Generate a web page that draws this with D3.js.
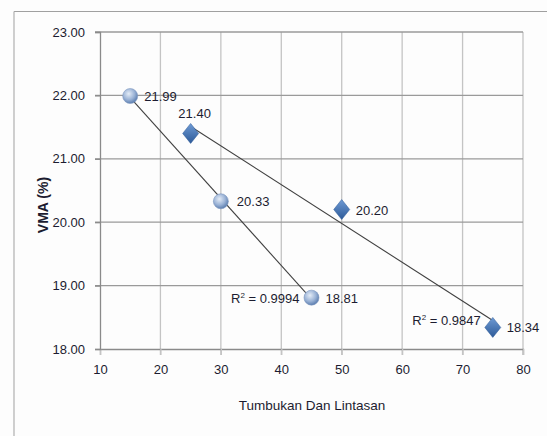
<!DOCTYPE html>
<html><head><meta charset="utf-8">
<script src="https://cdn.jsdelivr.net/npm/d3@7"></script>
<style>body{margin:0;background:#fff}svg{display:block}</style>
</head><body>
<svg id="c" width="547" height="436"></svg>
<script>
const xTicks = [10,20,30,40,50,60,70,80];
const yTicks = [18,19,20,21,22,23];
const circleX = [15,30,45];
const circleY = [21.99,20.33,18.81];
const circleR2 = "0.9994";
const diamondX = [25,50,75];
const diamondY = [21.40,20.20,18.34];
const diamondR2 = "0.9847";
const xTitle = "Tumbukan Dan Lintasan";
const yTitle = "VMA (%)";

const svg = d3.select("#c");
const font = "'Liberation Sans', Arial, sans-serif";
const txt = "#1c1c30";
const x = d3.scaleLinear().domain([10,80]).range([100,523]);
const y = d3.scaleLinear().domain([18,23]).range([349,32]);

// outer frame
svg.append("rect").attr("width",547).attr("height",436).attr("fill","#fdfdfd");
svg.append("line").attr("x1",14).attr("x2",547).attr("y1",11.5).attr("y2",11.5).attr("stroke","#a0a0a0").attr("stroke-width",1.2);
svg.append("line").attr("x1",14).attr("x2",14).attr("y1",11.5).attr("y2",436).attr("stroke","#b0b0b0").attr("stroke-width",1.2);

const defs = svg.append("defs");
const g1 = defs.append("radialGradient").attr("id","sph").attr("cx","40%").attr("cy","35%").attr("r","65%");
g1.append("stop").attr("offset","0%").attr("stop-color","#e4ecf7");
g1.append("stop").attr("offset","60%").attr("stop-color","#9bb3d6");
g1.append("stop").attr("offset","100%").attr("stop-color","#5d7fb0");
const g2 = defs.append("linearGradient").attr("id","dia").attr("x1","0").attr("y1","0").attr("x2","0").attr("y2","1");
g2.append("stop").attr("offset","0%").attr("stop-color","#6e9ad4");
g2.append("stop").attr("offset","100%").attr("stop-color","#2d5a98");

// vertical grid
svg.append("g").selectAll("line").data(xTicks.slice(1)).join("line")
  .attr("x1",d=>x(d)).attr("x2",d=>x(d)).attr("y1",y(23)).attr("y2",y(18)+6)
  .attr("stroke","#c4c4c4").attr("stroke-width",1.3);
// horizontal grid
svg.append("g").selectAll("line").data(yTicks.slice(1)).join("line")
  .attr("x1",x(10)-5).attr("x2",x(80)).attr("y1",d=>y(d)).attr("y2",d=>y(d))
  .attr("stroke","#9a9a9a").attr("stroke-width",1.3);

// axes
const xAxis = svg.append("g").attr("transform",`translate(0,${y(18)})`)
  .call(d3.axisBottom(x).tickValues(xTicks).tickSize(6).tickPadding(10).tickFormat(d3.format("d")));
const yAxis = svg.append("g").attr("transform",`translate(${x(10)},0)`)
  .call(d3.axisLeft(y).tickValues(yTicks).tickSize(5).tickPadding(10).tickFormat(d3.format(".2f")));
[xAxis,yAxis].forEach(a=>{
  a.select(".domain").attr("stroke","#8a8a8a").attr("stroke-width",1.3);
  a.selectAll(".tick line").attr("stroke","#8a8a8a").attr("stroke-width",1.3);
  a.selectAll("text").attr("fill",txt).style("font-family",font).style("font-size","13px");
});
xAxis.selectAll(".tick line").attr("stroke","#c4c4c4");

svg.append("text").attr("x",312).attr("y",410).attr("text-anchor","middle")
  .attr("fill",txt).style("font-family",font).style("font-size","13.5px").text(xTitle);
svg.append("text").attr("transform","translate(48,205) rotate(-90)").attr("text-anchor","middle")
  .attr("fill",txt).style("font-family",font).style("font-size","14px").style("font-weight","bold").text(yTitle);

function fit(xs,ys){
  const mx=d3.mean(xs), my=d3.mean(ys);
  const b=d3.sum(xs,(v,i)=>(v-mx)*(ys[i]-my))/d3.sum(xs,v=>(v-mx)**2);
  return v=>my+b*(v-mx);
}
const f1 = fit(circleX,circleY), f2 = fit(diamondX,diamondY);
const e1 = d3.extent(circleX), e2 = d3.extent(diamondX);
svg.append("line").attr("x1",x(e1[0])).attr("y1",y(f1(e1[0]))).attr("x2",x(e1[1])).attr("y2",y(f1(e1[1])))
  .attr("stroke","#404040").attr("stroke-width",1.1);
svg.append("line").attr("x1",x(e2[0])).attr("y1",y(f2(e2[0]))).attr("x2",x(e2[1])).attr("y2",y(f2(e2[1])))
  .attr("stroke","#404040").attr("stroke-width",1.1);

// markers
svg.append("g").selectAll("circle").data(circleX).join("circle")
  .attr("cx",d=>x(d)).attr("cy",(d,i)=>y(circleY[i])).attr("r",7.5)
  .attr("fill","url(#sph)").attr("stroke","#7d97bf").attr("stroke-width",0.6);
svg.append("g").selectAll("path").data(diamondX).join("path")
  .attr("transform",(d,i)=>`translate(${x(d)},${y(diamondY[i])})`)
  .attr("d","M0,-10L8,0L0,10L-8,0Z").attr("fill","url(#dia)").attr("stroke","#2d5a98").attr("stroke-width",0.5);

const lab = (tx,ty,s,anchor="start")=>svg.append("text").attr("x",tx).attr("y",ty).attr("text-anchor",anchor)
  .attr("fill",txt).style("font-family",font).style("font-size","13px").text(s);
// data labels
lab(x(circleX[0])+14, y(circleY[0])+5, circleY[0].toFixed(2));
lab(x(circleX[1])+16, y(circleY[1])+5, circleY[1].toFixed(2));
lab(x(circleX[2])+14, y(circleY[2])+5, circleY[2].toFixed(2));
lab(x(diamondX[0])+4, y(diamondY[0])-15, diamondY[0].toFixed(2), "middle");
lab(x(diamondX[1])+14, y(diamondY[1])+5, diamondY[1].toFixed(2));
lab(x(diamondX[2])+14, y(diamondY[2])+5, diamondY[2].toFixed(2));
// R² labels
function r2(tx,ty,v){
  const t = svg.append("text").attr("x",tx).attr("y",ty).attr("text-anchor","end")
    .attr("fill",txt).style("font-family",font).style("font-size","13px");
  t.append("tspan").text("R");
  t.append("tspan").attr("dy",-5).style("font-size","8px").text("2");
  t.append("tspan").attr("dy",5).text(" = "+v);
}
r2(x(circleX[2])-12, y(circleY[2])+5, circleR2);
r2(x(diamondX[2])-12, y(diamondY[2])-2, diamondR2);
</script>
</body></html>
